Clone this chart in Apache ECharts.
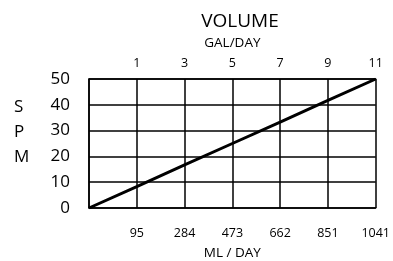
<!DOCTYPE html>
<html><head><meta charset="utf-8">
<script src="https://cdn.jsdelivr.net/npm/echarts@6/dist/echarts.min.js"></script>
<style>html,body{margin:0;padding:0;background:#fff}#c{width:393px;height:261px}</style>
</head><body><div id="c"></div>
<script>
const mlLabels = ["", "95", "284", "473", "662", "851", "1041"];
const galLabels = ["", "1", "3", "5", "7", "9", "11"];
const spmValues = [0, 8.3, 16.7, 25, 33.3, 41.7, 50];
const yTicks = [0, 10, 20, 30, 40, 50];

const font = "'Open Sans', 'Noto Sans', sans-serif";
const chart = echarts.init(document.getElementById('c'), null, {renderer: 'canvas'});
chart.setOption({
  animation: false,
  backgroundColor: '#fff',
  title: {text: 'VOLUME', left: 235, top: 7, textAlign: 'center',
    textStyle: {fontFamily: font, fontSize: 19, fontWeight: 'normal', color: '#000'}},
  grid: {left: 89, right: 17, top: 79, bottom: 53},
  graphic: [{type: 'text', left: 14, top: 95,
    style: {text: 'S\nP\nM', fontFamily: font, fontSize: 17, lineHeight: 25, fill: '#000', align: 'center'}}],
  xAxis: [
    {type: 'category', position: 'bottom', data: mlLabels, boundaryGap: false,
     name: 'ML / DAY', nameLocation: 'middle', nameGap: 38,
     nameTextStyle: {fontFamily: font, fontSize: 13.5, color: '#000'},
     axisLine: {show: true, lineStyle: {color: '#000', width: 1.5}},
     axisTick: {show: false},
     axisLabel: {margin: 19, fontFamily: font, fontSize: 12.5, color: '#000', interval: 0},
     splitLine: {show: true, lineStyle: {color: '#000', width: 1.5}}},
    {type: 'category', position: 'top', data: galLabels, boundaryGap: false,
     name: 'GAL/DAY', nameLocation: 'middle', nameGap: 29,
     nameTextStyle: {fontFamily: font, fontSize: 13.5, color: '#000'},
     axisLine: {show: true, lineStyle: {color: '#000', width: 1.5}},
     axisTick: {show: false},
     axisLabel: {margin: 9, fontFamily: font, fontSize: 12.5, color: '#000', interval: 0},
     splitLine: {show: false}}
  ],
  yAxis: {type: 'value', min: yTicks[0], max: yTicks[yTicks.length - 1], interval: 10,
    axisLine: {show: true, lineStyle: {color: '#000', width: 1.5}},
    axisTick: {show: false},
    axisLabel: {margin: 19, fontFamily: font, fontSize: 17, color: '#000'},
    splitLine: {show: true, lineStyle: {color: '#000', width: 1.5}}},
  series: [{type: 'line', data: spmValues, xAxisIndex: 0, symbol: 'none',
    lineStyle: {color: '#000', width: 3}}]
});
</script></body></html>
